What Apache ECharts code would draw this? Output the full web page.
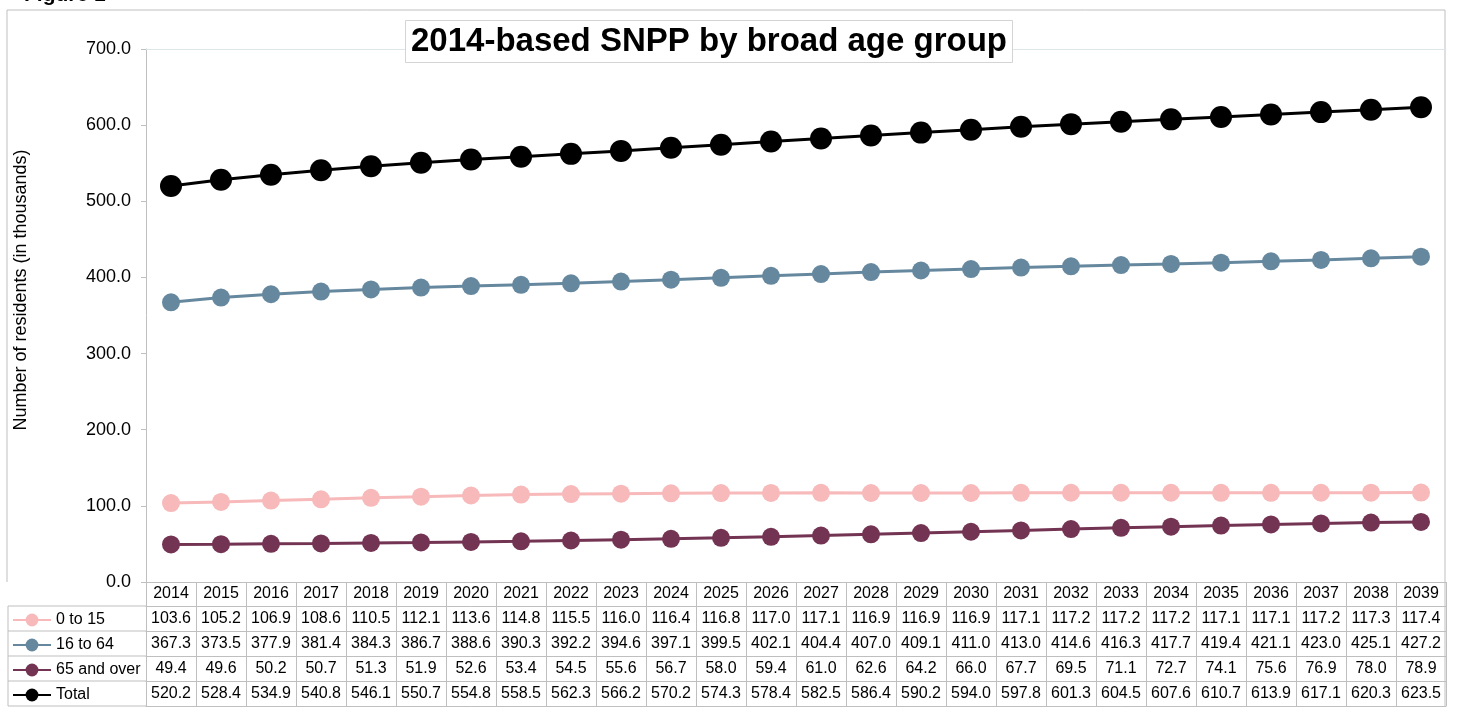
<!DOCTYPE html>
<html>
<head>
<meta charset="utf-8">
<title>2014-based SNPP by broad age group</title>
<script src="https://cdn.jsdelivr.net/npm/echarts@6/dist/echarts.min.js"></script>
<style>
  html, body { margin: 0; padding: 0; background: #fff; }
  #chart { width: 1460px; height: 709px; }
</style>
</head>
<body>
<div id="chart"></div>
<script>
// data
const years = ["2014", "2015", "2016", "2017", "2018", "2019", "2020", "2021", "2022", "2023",
  "2024", "2025", "2026", "2027", "2028", "2029", "2030", "2031", "2032", "2033",
  "2034", "2035", "2036", "2037", "2038", "2039"];
const age0to15 = [103.6, 105.2, 106.9, 108.6, 110.5, 112.1, 113.6, 114.8, 115.5, 116.0,
  116.4, 116.8, 117.0, 117.1, 116.9, 116.9, 116.9, 117.1, 117.2, 117.2,
  117.2, 117.1, 117.1, 117.2, 117.3, 117.4];
const age16to64 = [367.3, 373.5, 377.9, 381.4, 384.3, 386.7, 388.6, 390.3, 392.2, 394.6,
  397.1, 399.5, 402.1, 404.4, 407.0, 409.1, 411.0, 413.0, 414.6, 416.3,
  417.7, 419.4, 421.1, 423.0, 425.1, 427.2];
const age65plus = [49.4, 49.6, 50.2, 50.7, 51.3, 51.9, 52.6, 53.4, 54.5, 55.6,
  56.7, 58.0, 59.4, 61.0, 62.6, 64.2, 66.0, 67.7, 69.5, 71.1,
  72.7, 74.1, 75.6, 76.9, 78.0, 78.9];
const total = [520.2, 528.4, 534.9, 540.8, 546.1, 550.7, 554.8, 558.5, 562.3, 566.2,
  570.2, 574.3, 578.4, 582.5, 586.4, 590.2, 594.0, 597.8, 601.3, 604.5,
  607.6, 610.7, 613.9, 617.1, 620.3, 623.5];
const yTicks = { min: 0, max: 700, interval: 100 };

const FONT = '"Liberation Sans", Arial, sans-serif';
const GRID_COLOR = '#bfbfbf';

const groups = [
  { name: '0 to 15', data: age0to15, color: '#f7b9b9', size: 18 },
  { name: '16 to 64', data: age16to64, color: '#66889f', size: 18 },
  { name: '65 and over', data: age65plus, color: '#733352', size: 18 },
  { name: 'Total', data: total, color: '#000000', size: 22 }
];

const chart = echarts.init(document.getElementById('chart'));

// one axis per table row, stacked under the plot
function tableAxis(labels, offset) {
  return {
    type: 'category',
    gridIndex: 0,
    position: 'bottom',
    offset: offset,
    data: labels,
    boundaryGap: true,
    axisLine: { show: true, lineStyle: { color: GRID_COLOR, width: 1 } },
    axisTick: { show: true, interval: 0, length: 25, lineStyle: { color: GRID_COLOR } },
    axisLabel: { show: true, interval: 0, margin: 5, fontSize: 16, color: '#000', fontFamily: FONT }
  };
}

const xAxes = [tableAxis(years, 0)];
xAxes[0].axisTick.length = 24;
xAxes[0].axisLabel.margin = 4;
groups.forEach((g, i) => {
  xAxes.push(tableAxis(g.data.map(v => v.toFixed(1)), 24 + i * 25));
});
// bottom edge of the table
xAxes.push({
  type: 'category', gridIndex: 0, position: 'bottom', offset: 124, data: years,
  axisLine: { show: true, lineStyle: { color: GRID_COLOR } },
  axisTick: { show: false }, axisLabel: { show: false }
});
// faint top edge of the plot area
xAxes.push({
  type: 'category', gridIndex: 0, position: 'top', data: years,
  axisLine: { show: true, lineStyle: { color: '#dde7e9' } },
  axisTick: { show: false }, axisLabel: { show: false }
});

const leftLines = [606, 631, 656, 681, 706].map(y => ({
  type: 'line', shape: { x1: 8, y1: y, x2: 146, y2: y },
  style: { stroke: GRID_COLOR, lineWidth: 1 }
}));

// one legend per table row so each key sits in its own cell
const legends = groups.map((g, i) => ({
  orient: 'vertical',
  left: 12,
  top: 612 + i * 25,
  padding: 0,
  itemWidth: 38,
  itemHeight: 16,
  textStyle: { fontSize: 16, color: '#000', fontFamily: FONT },
  data: [g.name]
}));

const option = {
  animation: false,
  backgroundColor: '#fff',
  textStyle: { fontFamily: FONT },
  title: {
    text: '2014-based SNPP by broad age group',
    left: 405,
    top: 20,
    padding: [5, 6, 5, 6],
    backgroundColor: '#fff',
    borderColor: '#d4d4d4',
    borderWidth: 1,
    textStyle: { fontSize: 33, fontWeight: 'bold', color: '#000', fontFamily: FONT }
  },
  grid: { left: 146, right: 14, top: 49, bottom: 127, containLabel: false },
  legend: legends,
  xAxis: xAxes,
  yAxis: {
    type: 'value',
    min: yTicks.min,
    max: yTicks.max,
    interval: yTicks.interval,
    axisLine: { show: true, lineStyle: { color: GRID_COLOR } },
    axisTick: { show: true, length: 5, lineStyle: { color: GRID_COLOR } },
    splitLine: { show: false },
    axisLabel: {
      fontSize: 18, color: '#000', margin: 15, fontFamily: FONT,
      formatter: v => v.toFixed(1)
    }
  },
  series: groups.map(g => ({
    name: g.name,
    type: 'line',
    xAxisIndex: 0,
    data: g.data,
    color: g.color,
    symbol: 'circle',
    symbolSize: g.size,
    lineStyle: { width: 3, color: g.color },
    itemStyle: { color: g.color }
  })),
  graphic: [
    // chart frame
    {
      type: 'polyline',
      shape: { points: [[7, 582], [7, 10], [1445, 10], [1445, 706]] },
      style: { stroke: GRID_COLOR, fill: null, lineWidth: 1 }
    },
    {
      type: 'line', shape: { x1: 8, y1: 606, x2: 8, y2: 706 },
      style: { stroke: GRID_COLOR, lineWidth: 1 }
    },
    ...leftLines,
    {
      type: 'text', left: 24, top: -15,
      style: { text: 'Figure 1', fill: '#000', font: 'bold 21px ' + FONT }
    },
    {
      type: 'text',
      x: 21, y: 290,
      rotation: Math.PI / 2,
      style: {
        text: 'Number of residents (in thousands)',
        fontSize: 18, fill: '#000', fontFamily: FONT,
        align: 'center', verticalAlign: 'middle'
      }
    }
  ]
};

chart.setOption(option);
</script>
</body>
</html>
